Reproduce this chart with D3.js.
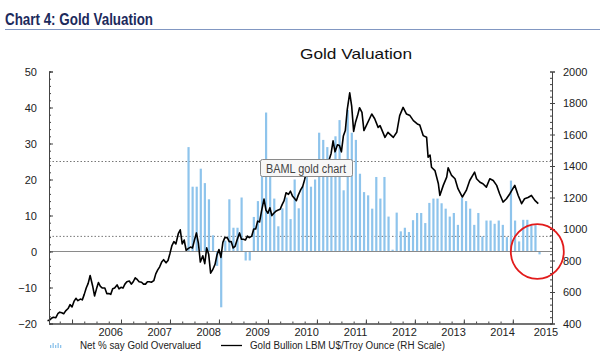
<!DOCTYPE html>
<html><head><meta charset="utf-8">
<script src="https://cdn.jsdelivr.net/npm/d3@7"></script>
<style>
html,body{margin:0;padding:0;background:#fff;}
svg{display:block;}
text{font-family:"Liberation Sans",Arial,sans-serif;}
</style></head>
<body>
<svg id="c" width="600" height="356"></svg>
<script>
// ---------------- DATA ----------------
const leftTicks = [-20, -10, 0, 10, 20, 30, 40, 50];
const rightTicks = [400, 600, 800, 1000, 1200, 1400, 1600, 1800, 2000];
const yearLabels = ["2006","2007","2008","2009","2010","2011","2012","2013","2014","2015"];
const refLevels = [25, 4.2];
// Net % say gold overvalued, monthly from May 2008
const barFirstYear = 2008, barFirstMonth = 5;
const netOvervalued = [
  29, 18, 18, 23, 19, 14.5, 4.5, -4, -15.5, 3,
  14.5, 6.6, 6.6, 15, -2.5, -2.5, 9.6, 14, 25, 38.6,
  20.7, 14.7, 7, 12, 15, 9, 20, 12, 18, 23,
  18, 20, 33, 31, 29, 23, 32, 36.5, 17, 39.3,
  33, 31, 21.6, 16.5, 15.6, 11.9, 20.7, 14.7, 20.7, 9.7,
  0.5, 10.8, 5.6, 6.6, 5.4, 8.7, 10.7, 10.7, 7.9, 13.5,
  14.7, 14.7, 13.4, 11.9, 9.7, 10.7, 7.4, 14.9, 14, 11.9,
  7.4, 10.7, 4.2, 8.6, 8.6, 7.7, 8.6, 7.4, 4, 19.7,
  8.6, 2.8, 8.8, 8.8, 7.3, 7.3, -0.8
];
// Gold bullion LBM US$/troy ounce
const goldDate = [
  2005.50,2005.54,2005.58,2005.62,2005.67,2005.71,2005.75,2005.79,2005.83,2005.87,2005.92,2005.96,
  2006.00,2006.04,2006.08,2006.12,2006.17,2006.21,2006.25,2006.29,2006.33,2006.37,2006.42,2006.46,
  2006.50,2006.54,2006.58,2006.62,2006.67,2006.71,2006.75,2006.79,2006.83,2006.87,2006.92,2006.96,
  2007.00,2007.04,2007.08,2007.12,2007.17,2007.21,2007.25,2007.29,2007.33,2007.37,2007.42,2007.46,
  2007.50,2007.54,2007.58,2007.62,2007.67,2007.71,2007.75,2007.79,2007.83,2007.87,2007.92,2007.96,
  2008.00,2008.04,2008.08,2008.12,2008.17,2008.21,2008.25,2008.29,2008.33,2008.37,2008.42,2008.46,
  2008.50,2008.54,2008.58,2008.62,2008.67,2008.71,2008.75,2008.79,2008.83,2008.87,2008.92,2008.96,
  2009.00,2009.04,2009.08,2009.12,2009.17,2009.21,2009.25,2009.29,2009.33,2009.37,2009.42,2009.46,
  2009.50,2009.54,2009.58,2009.62,2009.67,2009.71,2009.75,2009.79,2009.83,2009.87,2009.92,2009.96,
  2010.00,2010.04,2010.08,2010.12,2010.17,2010.21,2010.25,2010.29,2010.33,2010.37,2010.42,2010.46,
  2010.50,2010.54,2010.58,2010.62,2010.67,2010.71,2010.75,2010.79,2010.83,2010.87,2010.92,2010.96,
  2011.00,2011.04,2011.08,2011.12,2011.17,2011.21,2011.25,2011.29,2011.33,2011.37,2011.42,2011.46,
  2011.50,2011.54,2011.58,2011.62,2011.67,2011.71,2011.75,2011.79,2011.83,2011.87,2011.92,2011.96,
  2012.12,2012.18,2012.25,2012.29,2012.39,2012.45,2012.56,2012.63,2012.69,2012.76,2012.83,2012.90,
  2012.97,2013.05,2013.10,2013.17,2013.24,2013.27,2013.31,2013.34,2013.41,2013.48,2013.51,2013.58,
  2013.65,2013.68,2013.75,2013.82,2013.88,2013.97,2014.05,2014.12,2014.22,2014.26,2014.33,2014.39,
  2014.46,2014.53,2014.60,2014.67,2014.73,2014.80,2014.87,2014.94,2015.04,2015.11,2015.18,2015.24,
  2015.31,2015.38,2015.45,2015.52
];
const goldPrice = [
  418,422,433,440,437,462,472,468,462,480,495,520,
  505,540,560,545,555,550,585,625,655,705,640,575,
  620,660,635,625,625,590,590,585,620,625,645,620,
  630,625,650,665,670,650,665,690,680,665,662,650,
  650,665,665,662,672,715,740,760,790,805,785,800,
  845,895,920,905,970,995,905,930,865,875,885,880,
  930,975,910,790,830,780,880,840,720,740,775,835,
  870,820,915,945,945,920,920,880,890,930,975,935,
  935,930,955,945,955,1000,1000,1050,1045,1115,1190,1120,
  1100,1135,1085,1100,1115,1120,1125,1155,1180,1230,1220,1240,
  1210,1195,1180,1215,1250,1270,1315,1370,1350,1380,1390,1390,
  1405,1360,1335,1375,1425,1405,1440,1480,1560,1490,1535,1530,
  1490,1590,1625,1760,1865,1780,1620,1680,1720,1770,1740,1625,
  1730,1700,1645,1656,1582,1614,1582,1614,1720,1772,1730,1720,
  1688,1667,1660,1593,1582,1456,1470,1392,1371,1287,1213,1277,
  1329,1389,1340,1319,1256,1203,1245,1308,1361,1319,1297,1287,
  1266,1319,1308,1277,1224,1171,1192,1224,1277,1213,1161,1192,
  1200,1213,1182,1161
];

// ---------------- LAYOUT ----------------
const L = 49, R = 552, T = 71.5, B = 323.5;
const svg = d3.select("#c");

const x = d3.scaleLinear().domain([2005.53, 2015.8]).range([L, R]);
const yL = d3.scaleLinear().domain([-20, 50]).range([B, T]);
const yR = d3.scaleLinear().domain([400, 2000]).range([B, T]);

// Header
svg.append("text").attr("x", 5).attr("y", 25)
  .attr("font-size", 16).attr("font-weight", "bold").attr("fill", "#1c2a5c")
  .attr("textLength", 148).attr("lengthAdjust", "spacingAndGlyphs")
  .text("Chart 4: Gold Valuation");
svg.append("line").attr("x1", 5).attr("x2", 600).attr("y1", 29.5).attr("y2", 29.5)
  .attr("stroke", "#8197c2").attr("stroke-width", 1);

// Chart title
svg.append("text").attr("x", 300).attr("y", 59)
  .attr("font-size", 14.5).attr("fill", "#111")
  .attr("textLength", 112).attr("lengthAdjust", "spacingAndGlyphs")
  .text("Gold Valuation");

// Reference dotted lines
svg.selectAll("line.ref").data(refLevels).enter().append("line")
  .attr("class", "ref")
  .attr("x1", L).attr("x2", R)
  .attr("y1", d => yL(d)).attr("y2", d => yL(d))
  .attr("stroke", "#777").attr("stroke-width", 1).attr("stroke-dasharray", "1.5,2");

// Bars
const barDate = i => barFirstYear + (barFirstMonth - 1 + i + 0.55) / 12;
const bw = 2.2;
svg.append("g").selectAll("rect").data(netOvervalued).enter().append("rect")
  .attr("x", (d, i) => x(barDate(i)) - bw / 2)
  .attr("width", bw)
  .attr("y", d => yL(Math.max(0, d)))
  .attr("height", d => Math.abs(yL(d) - yL(0)))
  .attr("fill", "#8ec4ec");

// Zero line
svg.append("line").attr("x1", L).attr("x2", R)
  .attr("y1", yL(0)).attr("y2", yL(0))
  .attr("stroke", "#8a8a8a").attr("stroke-width", 1);

// Gold line
const goldPts = goldDate.map((d, i) => [d, goldPrice[i]]);
svg.append("path").datum(goldPts)
  .attr("d", d3.line().x(d => x(d[0])).y(d => yR(d[1])))
  .attr("fill", "none").attr("stroke", "#000").attr("stroke-width", 1.6)
  .attr("stroke-linejoin", "round");

// Axes
const axisColor = "#444";
function styleAxis(g) {
  g.select(".domain").attr("stroke", axisColor);
  g.selectAll(".tick line").attr("stroke", axisColor);
  g.selectAll("text").attr("fill", "#222").attr("font-size", 11)
    .attr("font-family", "'Liberation Sans',Arial,sans-serif");
}
// left minor
svg.append("g").attr("transform", `translate(${L},0)`)
  .call(d3.axisLeft(yL).tickValues(d3.range(-20, 51, 2)).tickSize(-2).tickFormat(""))
  .call(styleAxis);
svg.append("g").attr("transform", `translate(${L},0)`)
  .call(d3.axisLeft(yL).tickValues(leftTicks).tickSize(-4).tickPadding(12).tickFormat(d3.format("d")))
  .call(styleAxis);
// right minor
svg.append("g").attr("transform", `translate(${R},0)`)
  .call(d3.axisRight(yR).tickValues(d3.range(400, 2001, 40)).tickSize(-2).tickFormat(""))
  .call(styleAxis);
svg.append("g").attr("transform", `translate(${R},0)`)
  .call(d3.axisRight(yR).tickValues(rightTicks).tickSize(3).tickPadding(8).tickFormat(d3.format("d")))
  .call(styleAxis);
// bottom axis: quarterly minor ticks and year ticks
const years = yearLabels.map(Number);
const quarters = [];
years.forEach(yv => { for (let q = 0; q < 4; q++) quarters.push(yv - 1 + q * 0.25 + 0.25); });
svg.append("g").attr("transform", `translate(0,${B})`)
  .call(d3.axisBottom(x).tickValues(quarters.filter(v => v > x.domain()[0] && v < x.domain()[1])).tickSize(-2).tickFormat(""))
  .call(styleAxis);
svg.append("g").attr("transform", `translate(0,${B})`)
  .call(d3.axisBottom(x).tickValues(years).tickSize(-4).tickFormat(""))
  .call(styleAxis);
svg.append("g").selectAll("text").data(yearLabels).enter().append("text")
  .attr("x", d => Math.min(x(+d + 0.79), R - 6))
  .attr("y", 336)
  .attr("text-anchor", "middle")
  .attr("font-size", 11).attr("fill", "#222")
  .text(d => d);

// Annotation box
const ann = svg.append("g");
ann.append("rect").attr("x", 260.5).attr("y", 159.5).attr("width", 92).attr("height", 17)
  .attr("rx", 2).attr("fill", "#f7f7f7").attr("stroke", "#8a8a8a");
ann.append("text").attr("x", 266).attr("y", 172.5)
  .attr("font-family", "'Open Sans','Noto Sans',sans-serif").attr("font-size", 12).attr("fill", "#444")
  .attr("textLength", 80).attr("lengthAdjust", "spacingAndGlyphs")
  .text("BAML gold chart");

// Red circle highlight
svg.append("ellipse").attr("cx", x(2015.5)).attr("cy", yL(0))
  .attr("rx", 26.5).attr("ry", 27.3)
  .attr("fill", "none").attr("stroke", "#e21b1b").attr("stroke-width", 1.8);

// Legend
const lg = svg.append("g");
const swatchH = [3, 5, 3, 5, 3];
lg.selectAll("rect").data(swatchH).enter().append("rect")
  .attr("x", (d, i) => 50 + i * 2.5).attr("width", 1.3)
  .attr("y", d => 348 - d).attr("height", d => d).attr("fill", "#8ec4ec");
lg.append("text").attr("x", 80).attr("y", 349).attr("font-size", 10).attr("fill", "#222")
  .attr("textLength", 121).attr("lengthAdjust", "spacingAndGlyphs")
  .text("Net % say Gold Overvalued");
lg.append("line").attr("x1", 221).attr("x2", 242).attr("y1", 345.5).attr("y2", 345.5)
  .attr("stroke", "#000").attr("stroke-width", 1.3);
lg.append("text").attr("x", 250).attr("y", 349).attr("font-size", 10).attr("fill", "#222")
  .attr("textLength", 195).attr("lengthAdjust", "spacingAndGlyphs")
  .text("Gold Bullion LBM U$/Troy Ounce (RH Scale)");
</script>
</body></html>
